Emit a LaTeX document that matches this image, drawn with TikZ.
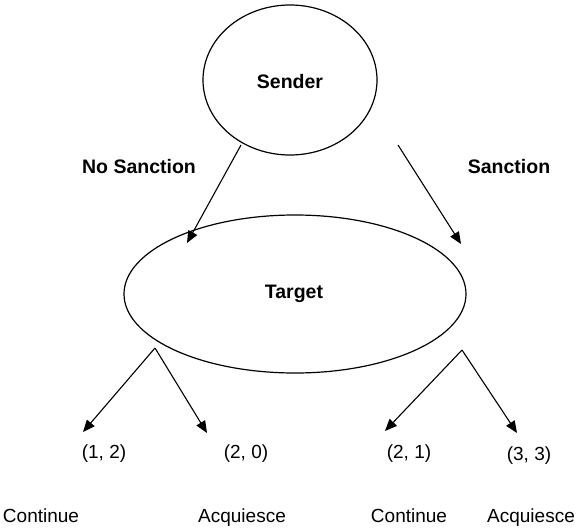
\documentclass[tikz,border=0pt]{standalone}
\usepackage{fontspec}
\setmainfont{Liberation Sans}
\usetikzlibrary{shapes.geometric,arrows.meta}
\begin{document}
\begin{tikzpicture}[x=1pt,y=-1pt,
  ell/.style={draw, ellipse, line width=1.2pt, inner sep=0pt},
  lab/.style={font=\fontsize{19.5}{22}\selectfont\bfseries, inner sep=0pt},
  txt/.style={font=\fontsize{19}{22}\selectfont, inner sep=0pt},
  arr/.style={line width=1.1pt, -{Triangle[length=12pt,width=10pt]}}]
\useasboundingbox (0,0) rectangle (580,527);
\node[ell, minimum width=174pt, minimum height=150pt] (sender) at (290,80) {};
\node[lab] (sendert) at (290,82) {Sender};
\node[ell, minimum width=342pt, minimum height=158pt] (target) at (295,294) {};
\node[lab] (targett) at (294,294) {Target};
\node[lab] (nos) at (139,167) {No Sanction};
\node[lab] (san) at (509,167) {Sanction};
\coordinate (s1) at (241,145);
\coordinate (s2) at (398,145);
\coordinate (t1) at (187,243);
\coordinate (t2) at (461,244);
\coordinate (b1) at (155,348);
\coordinate (b2) at (462,350);
\coordinate (e1) at (83,432);
\coordinate (e2) at (207,433);
\coordinate (e3) at (385,431);
\coordinate (e4) at (517,433);
\draw[arr] (s1) -- (t1);
\draw[arr] (s2) -- (t2);
\draw[arr] (b1) -- (e1);
\draw[arr] (b1) -- (e2);
\draw[arr] (b2) -- (e3);
\draw[arr] (b2) -- (e4);
\node[txt] (p1) at (104,454) {(1, 2)};
\node[txt] (p2) at (246,454) {(2, 0)};
\node[txt] (p3) at (409,454) {(2, 1)};
\node[txt] (p4) at (529,456) {(3, 3)};
\node[txt] (a1) at (41,516) {Continue};
\node[txt] (a2) at (242,518) {Acquiesce};
\node[txt] (a3) at (409,516) {Continue};
\node[txt] (a4) at (531,518) {Acquiesce};
\end{tikzpicture}
\end{document}
